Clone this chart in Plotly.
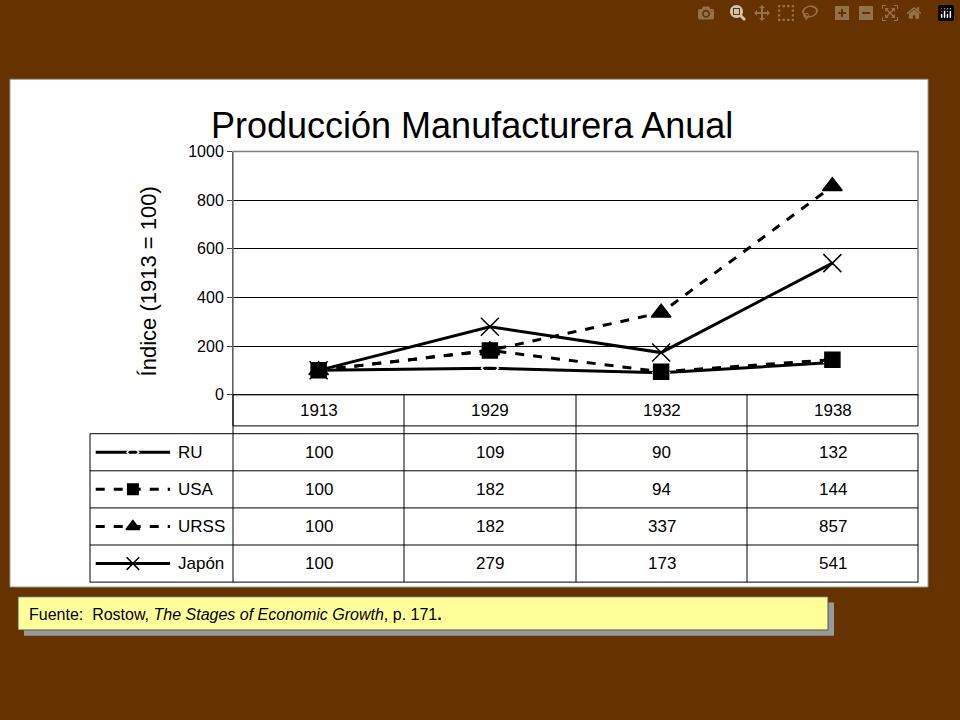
import plotly.graph_objects as go

years = ["1913", "1929", "1932", "1938"]
series_names = ["RU", "USA", "URSS", "Japón"]
ru = [100, 109, 90, 132]
usa = [100, 182, 94, 144]
urss = [100, 182, 337, 857]
japon = [100, 279, 173, 541]
y_ticks = [0, 200, 400, 600, 800, 1000]

W, H = 960, 720
def px(x): return x / W
def py(y): return 1 - y / H

styles = [
    dict(dash="solid", symbol="diamond-open", size=13, color="black", fill="white"),
    dict(dash="dash", symbol="square", size=15, color="black", fill="black"),
    dict(dash="dash", symbol="triangle-up", size=17, color="black", fill="black"),
    dict(dash="solid", symbol="x-thin-open", size=18, color="black", fill="black"),
]
data = [ru, usa, urss, japon]

fig = go.Figure()
for i, (name, vals, st) in enumerate(zip(series_names, data, styles)):
    fig.add_trace(go.Scatter(
        x=years, y=vals, mode="lines+markers", name=name,
        line=dict(color="black", width=3, dash=st["dash"]),
        marker=dict(symbol=st["symbol"], size=st["size"], color=st["fill"],
                    line=dict(color="black", width=1.5)),
        xaxis="x", yaxis="y", showlegend=False))
    fig.add_trace(go.Scatter(
        x=[0.04, 0.3, 0.56], y=[i + 0.5] * 3, mode="lines",
        line=dict(color="black", width=3, dash=st["dash"]),
        xaxis="x2", yaxis="y2", showlegend=False, hoverinfo="skip"))
    fig.add_trace(go.Scatter(
        x=[0.3], y=[i + 0.5], mode="markers",
        marker=dict(symbol=st["symbol"], size=st["size"] * 0.7, color=st["fill"],
                    line=dict(color="black", width=1.5)),
        xaxis="x2", yaxis="y2", showlegend=False, hoverinfo="skip"))

shapes = []
ann = []
def A(**kw):
    kw.setdefault("xanchor", "center")
    kw.setdefault("yanchor", "middle")
    kw.setdefault("showarrow", False)
    ann.append(kw)

shapes.append(dict(type="rect", xref="paper", yref="paper", x0=px(10), x1=px(928),
                   y0=py(593), y1=py(73), fillcolor="white", line=dict(color="#999999", width=1), layer="below"))
shapes.append(dict(type="rect", xref="paper", yref="paper", x0=px(233), x1=px(918),
                   y0=py(396), y1=py(147), line=dict(color="#808080", width=1.5)))
colx = [233, 404, 576, 747, 918]
shapes.append(dict(type="rect", xref="paper", yref="paper", x0=px(233), x1=px(918),
                   y0=py(428), y1=py(396), line=dict(color="black", width=1)))
rows = [436, 474, 512, 550, 588]
shapes.append(dict(type="rect", xref="paper", yref="paper", x0=px(90), x1=px(918),
                   y0=py(588), y1=py(436), line=dict(color="black", width=1)))
for r in rows[1:-1]:
    shapes.append(dict(type="line", xref="paper", yref="paper", x0=px(90), x1=px(918),
                       y0=py(r), y1=py(r), line=dict(color="black", width=1)))
for c in colx[:-1]:
    shapes.append(dict(type="line", xref="paper", yref="paper", x0=px(c), x1=px(c),
                       y0=py(588), y1=py(396), line=dict(color="black", width=1)))
for j, yr in enumerate(years):
    A(xref="paper", yref="paper", x=px((colx[j] + colx[j + 1]) / 2), y=py(412),
      text=yr, font=dict(size=17))
for i, vals in enumerate(data):
    for j, v in enumerate(vals):
        A(xref="paper", yref="paper", x=px((colx[j] + colx[j + 1]) / 2),
          y=py((rows[i] + rows[i + 1]) / 2), text=str(v), font=dict(size=17))
    A(xref="x2", yref="y2", x=0.6, y=i + 0.5, text=series_names[i], xanchor="left", font=dict(size=17))
shapes.append(dict(type="rect", xref="paper", yref="paper", x0=px(24), x1=px(834),
                   y0=py(643), y1=py(609), fillcolor="#999999", line=dict(width=0)))
shapes.append(dict(type="rect", xref="paper", yref="paper", x0=px(18), x1=px(828),
                   y0=py(637), y1=py(603), fillcolor="#FFFF99", line=dict(color="#555555", width=1)))
A(xref="paper", yref="paper", x=px(27), y=py(621), xanchor="left",
  text="Fuente:  Rostow, <i>The Stages of Economic Growth</i>, p. 171<b>.</b>", font=dict(size=16))
A(xref="paper", yref="paper", x=px(472), y=py(120), text="Producción Manufacturera Anual", font=dict(size=36))
A(xref="paper", yref="paper", x=px(148), y=py(280), text="Índice (1913 = 100)", textangle=-90, font=dict(size=22))

fig.update_layout(
    width=W, height=H, margin=dict(l=0, r=0, t=0, b=0),
    paper_bgcolor="#663300", plot_bgcolor="white",
    font=dict(family="Liberation Sans, Arial", color="black"),
    shapes=shapes, annotations=ann,
    xaxis=dict(domain=[px(233), px(918)], type="category", range=[-0.5, 3.5],
               showticklabels=False, showgrid=False, zeroline=False),
    yaxis=dict(domain=[py(396), py(147)], range=[0, 1000], tickvals=y_ticks,
               showgrid=True, gridcolor="black", gridwidth=1, zeroline=False,
               ticks="outside", ticklen=5, tickfont=dict(size=16), showline=True, linecolor="black"),
    xaxis2=dict(domain=[px(90), px(233)], range=[0, 1], visible=False),
    yaxis2=dict(domain=[py(588), py(436)], range=[4, 0], visible=False, anchor="x2"),
)
fig.write_html("out.html", post_script="document.body.style.margin='0';document.body.style.overflow='hidden';")
